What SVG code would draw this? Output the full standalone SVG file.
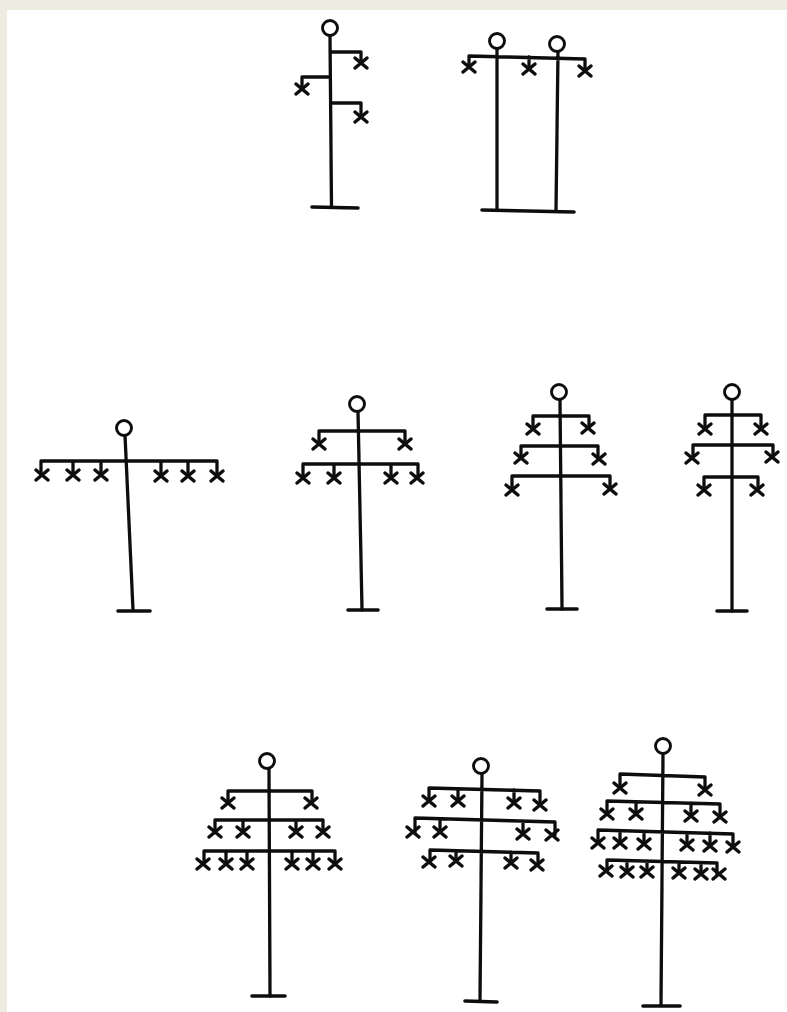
<svg xmlns="http://www.w3.org/2000/svg" width="787" height="1012" viewBox="0 0 787 1012">
<style>
.l{fill:none;stroke:#0c0c0c;stroke-width:3.300;stroke-linecap:round;stroke-linejoin:round}
.b{fill:none;stroke:#0c0c0c;stroke-width:3.600;stroke-linecap:round}
.c{fill:#fff;stroke:#0c0c0c;stroke-width:2.900}
.k{fill:none;stroke:#0c0c0c;stroke-width:3.500;stroke-linecap:round}
</style>
<defs>
<filter id="s" x="-5%" y="-5%" width="110%" height="110%"><feGaussianBlur stdDeviation="0.4"/></filter>
<path id="x" class="k" d="M-6-5 6 5M-6 5 6-5"/>
</defs>
<rect width="787" height="1012" fill="#fff"/>
<path fill="#eeebe0" d="M0 0H787V10H7V1012H0Z"/>
<g filter="url(#s)">
<g id="pole-1">
<path class="l" d="M330 35 331.500 207M330 52H361V63M330 77H302V89M331 103H361V117"/>
<path class="b" d="M312 207 358 208"/>
<circle class="c" cx="330" cy="28" r="7.500"/>
<use href="#x" x="361" y="63"/><use href="#x" x="302" y="89"/><use href="#x" x="361" y="117"/>
</g>
<g id="pole-2">
<path class="l" d="M497 48V210M558 51 556 211M469 67V56L585 59V71M529 57V69"/>
<path class="b" d="M482 210 574 212"/>
<circle class="c" cx="497" cy="41" r="7.500"/><circle class="c" cx="557" cy="44" r="7.500"/>
<use href="#x" x="469" y="67"/><use href="#x" x="529" y="69"/><use href="#x" x="585" y="71"/>
</g>
<g id="pole-3">
<path class="l" d="M125 435 133 610M41 475V461H217V475M73 461V475M101 461V475M161 461V475M188 461V475"/>
<path class="b" d="M118 611H150"/>
<circle class="c" cx="124" cy="428" r="7.500"/>
<use href="#x" x="42" y="475"/><use href="#x" x="73" y="475"/><use href="#x" x="101" y="475"/><use href="#x" x="161" y="476"/><use href="#x" x="188" y="476"/><use href="#x" x="217" y="476"/>
</g>
<g id="pole-4">
<path class="l" d="M358 411 362 610M319 444V431H405V444M303 478V464H418V478M334 464V478M391 464V478"/>
<path class="b" d="M348 610H378"/>
<circle class="c" cx="357" cy="404" r="7.500"/>
<use href="#x" x="319" y="444"/><use href="#x" x="405" y="444"/><use href="#x" x="303" y="478"/><use href="#x" x="334" y="478"/><use href="#x" x="391" y="478"/><use href="#x" x="417" y="478"/>
</g>
<g id="pole-5">
<path class="l" d="M560 399 562 609M533 429V416H589V428M521 458V446H598V459M512 490V476H610V489"/>
<path class="b" d="M547 609H577"/>
<circle class="c" cx="559" cy="392" r="7.500"/>
<use href="#x" x="533" y="429"/><use href="#x" x="588" y="428"/><use href="#x" x="521" y="458"/><use href="#x" x="599" y="459"/><use href="#x" x="512" y="490"/><use href="#x" x="610" y="489"/>
</g>
<g id="pole-6">
<path class="l" d="M732 399V611M705 429V415H761V429M693 458V445H773V457M704 490V477H758V490"/>
<path class="b" d="M717 611H747"/>
<circle class="c" cx="732" cy="392" r="7.500"/>
<use href="#x" x="705" y="429"/><use href="#x" x="761" y="429"/><use href="#x" x="692" y="458"/><use href="#x" x="772" y="457"/><use href="#x" x="704" y="490"/><use href="#x" x="757" y="490"/>
</g>
<g id="pole-7">
<path class="l" d="M269 768 270 996M228 803V791H312V803M215 832V820H323V832M243 820V832M296 820V832M204 864V851H335V864M226 851V864M247 851V864M292 851V864M313 851V864"/>
<path class="b" d="M252 996H285"/>
<circle class="c" cx="267" cy="761" r="7.500"/>
<use href="#x" x="228" y="803"/><use href="#x" x="311" y="803"/><use href="#x" x="215" y="832"/><use href="#x" x="243" y="832"/><use href="#x" x="296" y="832"/><use href="#x" x="323" y="832"/><use href="#x" x="203" y="864"/><use href="#x" x="226" y="864"/><use href="#x" x="247" y="864"/><use href="#x" x="292" y="864"/><use href="#x" x="313" y="864"/><use href="#x" x="335" y="864"/>
</g>
<g id="pole-8">
<path class="l" d="M482 773 480 1001M429 801V788L540 791V805M458 789V801M514 790V803M415 832V818L555 822V835M440 819V832M523 821V834M430 862V850L538 853V865M456 851V861M511 852V863"/>
<path class="b" d="M465 1001 497 1002"/>
<circle class="c" cx="481" cy="766" r="7.500"/>
<use href="#x" x="429" y="801"/><use href="#x" x="458" y="801"/><use href="#x" x="514" y="803"/><use href="#x" x="540" y="805"/><use href="#x" x="413" y="832"/><use href="#x" x="440" y="832"/><use href="#x" x="523" y="834"/><use href="#x" x="552" y="835"/><use href="#x" x="429" y="862"/><use href="#x" x="456" y="861"/><use href="#x" x="511" y="863"/><use href="#x" x="537" y="865"/>
</g>
<g id="pole-9">
<path class="l" d="M663 753 661 1005M620 788V774L705 777V790M607 814V801L720 804V817M636 802V814M691 803V816M598 843V830L733 834V847M620 831V843M644 832V844M687 833V845M710 833V846M607 871V860L717 863V874M627 861V872M647 861V872M679 862V873M701 863V874"/>
<path class="b" d="M643 1006H680"/>
<circle class="c" cx="663" cy="746" r="7.500"/>
<use href="#x" x="620" y="788"/><use href="#x" x="705" y="790"/><use href="#x" x="607" y="814"/><use href="#x" x="636" y="814"/><use href="#x" x="691" y="816"/><use href="#x" x="720" y="817"/><use href="#x" x="598" y="843"/><use href="#x" x="620" y="843"/><use href="#x" x="644" y="844"/><use href="#x" x="687" y="845"/><use href="#x" x="710" y="846"/><use href="#x" x="733" y="847"/><use href="#x" x="606" y="871"/><use href="#x" x="627" y="872"/><use href="#x" x="647" y="872"/><use href="#x" x="679" y="873"/><use href="#x" x="701" y="874"/><use href="#x" x="719" y="874"/>
</g>
</g>
</svg>
